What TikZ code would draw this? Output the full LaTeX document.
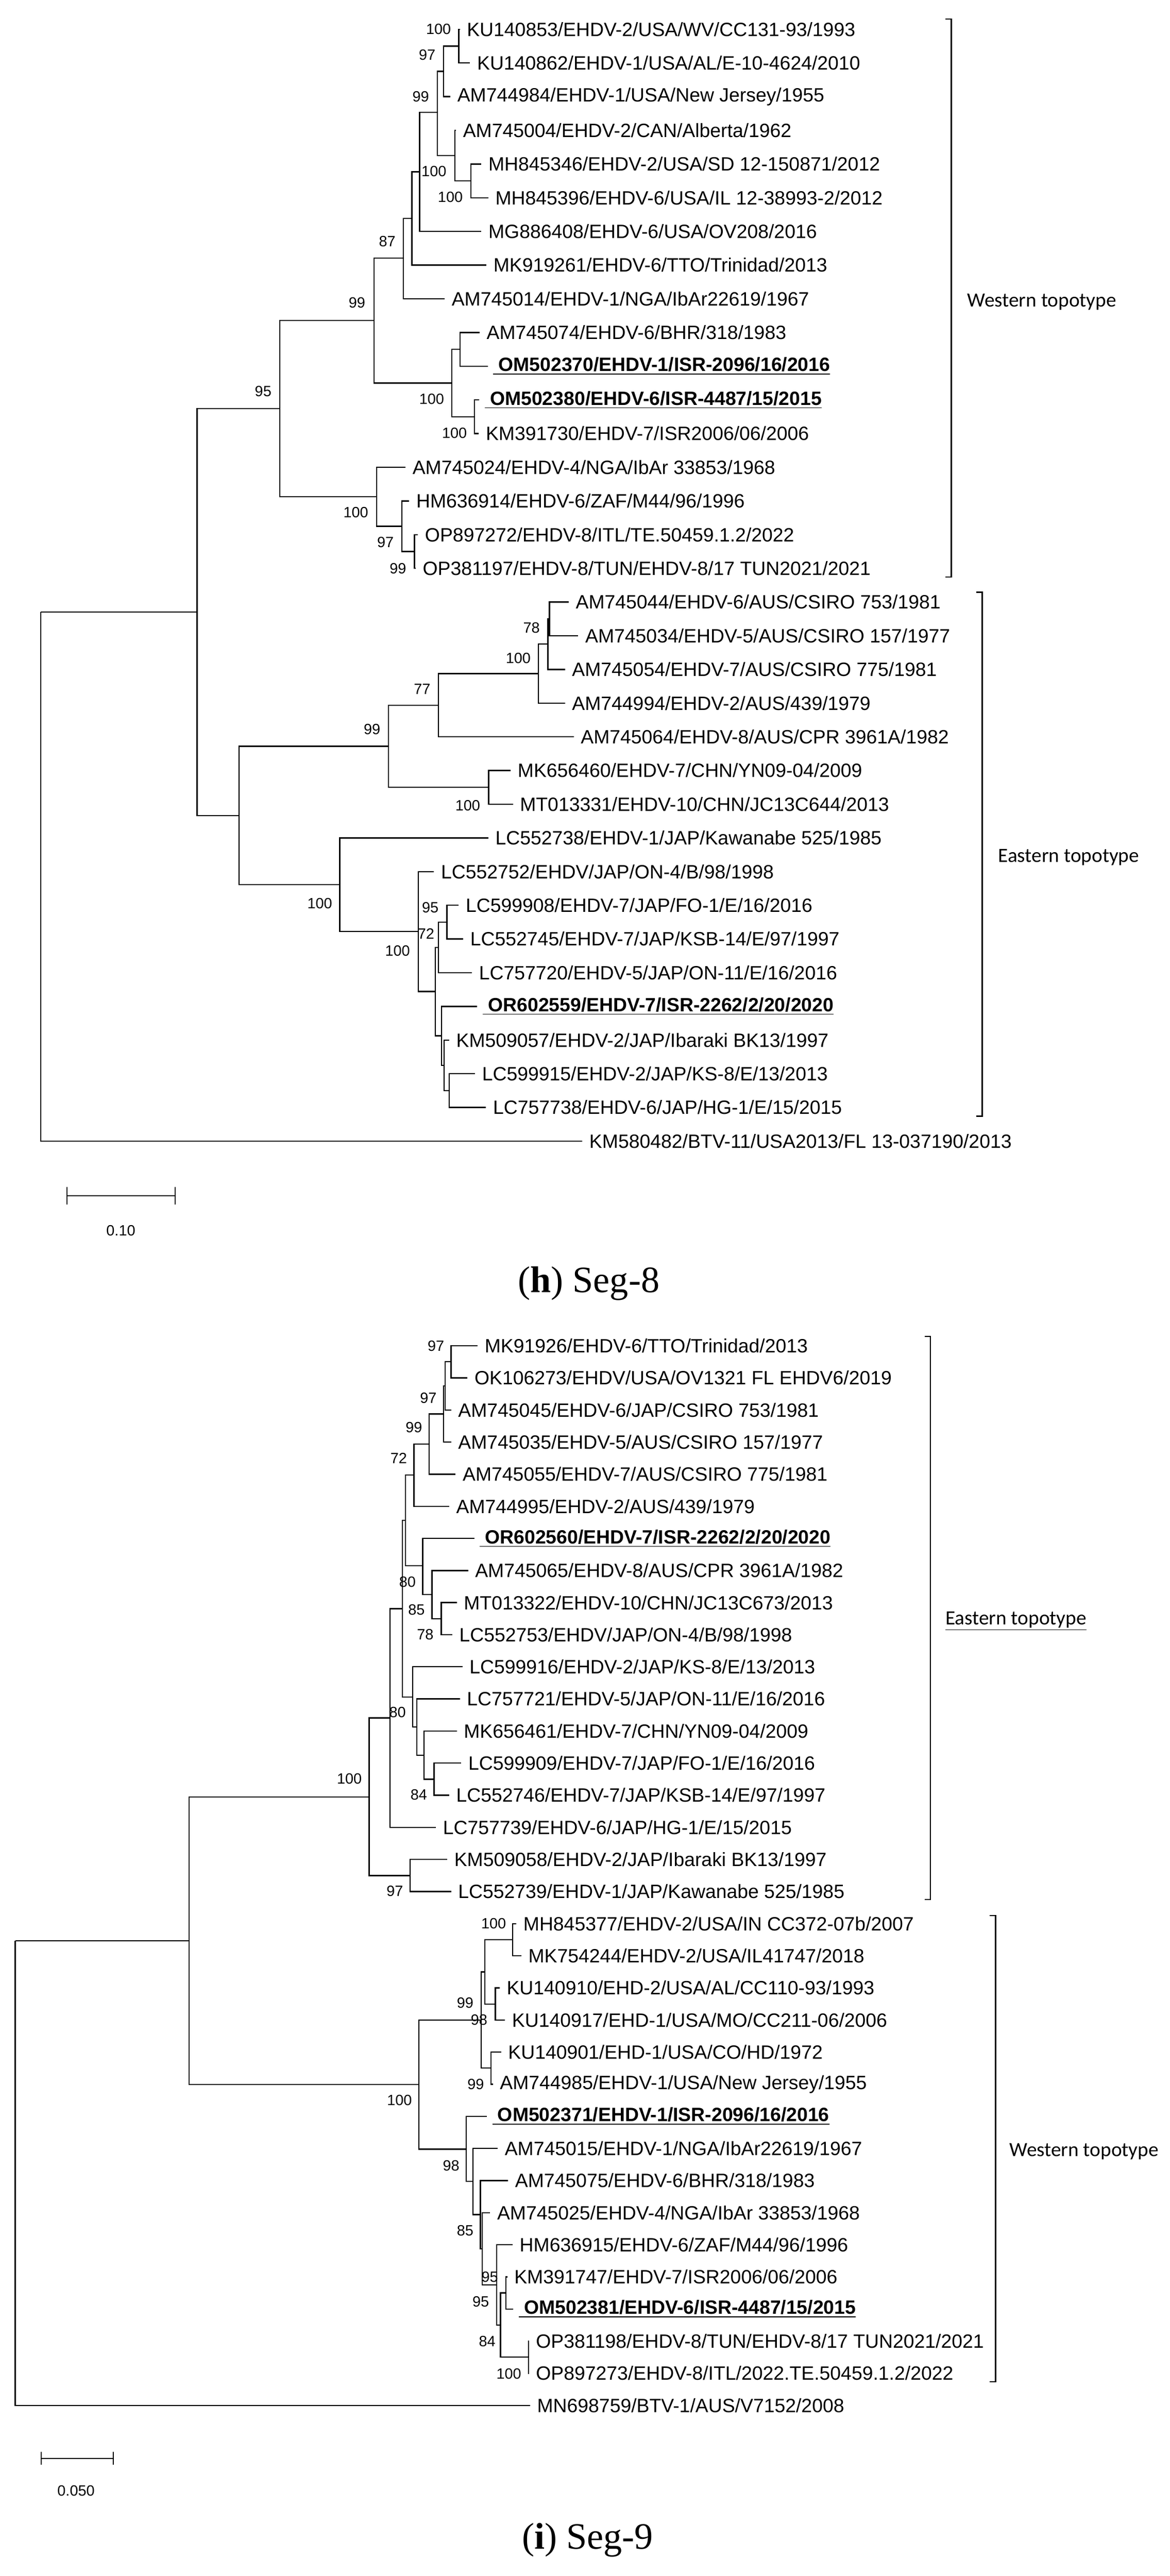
\documentclass[tikz,border=0pt]{standalone}
\usepackage{fontspec}
\setmainfont{Liberation Sans}
\newfontfamily\topo{Carlito}
\newfontfamily\capf{Liberation Serif}
\begin{document}
\begin{tikzpicture}[x=1pt,y=1pt,line width=0.75pt,
  leaf/.style={anchor=west,inner sep=0pt,font=\fontsize{11.9}{12}\selectfont},
  bs/.style={inner sep=0pt,font=\fontsize{9.2}{10}\selectfont},
  topolab/.style={anchor=west,inner sep=0pt,font=\topo\fontsize{12.5}{14}\selectfont},
  figcap/.style={inner sep=0pt,font=\capf\fontsize{23}{26}\selectfont},
  branch/.style={line width=0.75pt}]
\useasboundingbox (0,0) rectangle (723.1,-1592.6);
\newcommand\nd[3]{\coordinate (#1) at (#2,#3);}
\newcommand\lf[4]{\coordinate (#1) at (#2-4,#3); \node[leaf] (#1t) at (#2,#3) {#4};}
\newcommand\blf[4]{\coordinate (#1) at (#2-3,#3); \node[leaf] (#1t) at (#2,#3) {\underline{\textbf{\ #4}}};}
% ================= tree h =================
\begin{scope}[x=1pt,y=-20.83pt,yshift=2.73pt]
\lf{h1}{288.3}{1}{KU140853/EHDV-2/USA/WV/CC131-93/1993}
\lf{h2}{294.6}{2}{KU140862/EHDV-1/USA/AL/E-10-4624/2010}
\lf{h3}{282.4}{3}{AM744984/EHDV-1/USA/New Jersey/1955}
\lf{h4}{285.9}{4}{AM745004/EHDV-2/CAN/Alberta/1962}
\lf{h5}{301.6}{5}{MH845346/EHDV-2/USA/SD 12-150871/2012}
\lf{h6}{305.9}{6}{MH845396/EHDV-6/USA/IL 12-38993-2/2012}
\lf{h7}{301.6}{7}{MG886408/EHDV-6/USA/OV208/2016}
\lf{h8}{304.7}{8}{MK919261/EHDV-6/TTO/Trinidad/2013}
\lf{h9}{278.9}{9}{AM745014/EHDV-1/NGA/IbAr22619/1967}
\lf{h10}{300.5}{10}{AM745074/EHDV-6/BHR/318/1983}
\blf{h11}{304.5}{11}{OM502370/EHDV-1/ISR-2096/16/2016}
\blf{h12}{299.3}{12}{OM502380/EHDV-6/ISR-4487/15/2015}
\lf{h13}{300.0}{13}{KM391730/EHDV-7/ISR2006/06/2006}
\lf{h14}{254.7}{14}{AM745024/EHDV-4/NGA/IbAr 33853/1968}
\lf{h15}{257.0}{15}{HM636914/EHDV-6/ZAF/M44/96/1996}
\lf{h16}{262.4}{16}{OP897272/EHDV-8/ITL/TE.50459.1.2/2022}
\lf{h17}{261.0}{17}{OP381197/EHDV-8/TUN/EHDV-8/17 TUN2021/2021}
\lf{h18}{355.6}{18}{AM745044/EHDV-6/AUS/CSIRO 753/1981}
\lf{h19}{361.5}{19}{AM745034/EHDV-5/AUS/CSIRO 157/1977}
\lf{h20}{353.3}{20}{AM745054/EHDV-7/AUS/CSIRO 775/1981}
\lf{h21}{353.3}{21}{AM744994/EHDV-2/AUS/439/1979}
\lf{h22}{358.7}{22}{AM745064/EHDV-8/AUS/CPR 3961A/1982}
\lf{h23}{319.7}{23}{MK656460/EHDV-7/CHN/YN09-04/2009}
\lf{h24}{321.1}{24}{MT013331/EHDV-10/CHN/JC13C644/2013}
\lf{h25}{305.9}{25}{LC552738/EHDV-1/JAP/Kawanabe 525/1985}
\lf{h26}{272.3}{26}{LC552752/EHDV/JAP/ON-4/B/98/1998}
\lf{h27}{287.6}{27}{LC599908/EHDV-7/JAP/FO-1/E/16/2016}
\lf{h28}{290.4}{28}{LC552745/EHDV-7/JAP/KSB-14/E/97/1997}
\lf{h29}{295.8}{29}{LC757720/EHDV-5/JAP/ON-11/E/16/2016}
\blf{h30}{298.1}{30}{OR602559/EHDV-7/ISR-2262/2/20/2020}
\lf{h31}{281.7}{31}{KM509057/EHDV-2/JAP/Ibaraki BK13/1997}
\lf{h32}{297.7}{32}{LC599915/EHDV-2/JAP/KS-8/E/13/2013}
\lf{h33}{304.5}{33}{LC757738/EHDV-6/JAP/HG-1/E/15/2015}
\lf{h34}{364.0}{34}{KM580482/BTV-11/USA2013/FL 13-037190/2013}
\nd{hR}{25.1}{18.30}\nd{hA}{121.8}{18.30}\nd{hW}{173.0}{12.26}\nd{hE}{147.7}{24.34}
\nd{hW1}{231.2}{9.64}\nd{hW2}{232.9}{14.875}\nd{hW1a}{249.3}{7.79}\nd{hW1b}{279.3}{11.5}
\nd{hW1a1}{254.7}{6.61}\nd{hW1a1a}{259.4}{5.23}\nd{hn1}{270.4}{3.46}\nd{hn2}{274.2}{2.25}
\nd{hn3}{283.6}{1.5}\nd{hn4}{281.2}{4.75}\nd{hn5}{291.1}{5.5}\nd{hn6}{284.5}{10.5}
\nd{hn7}{293.4}{12.5}\nd{hn8}{248.4}{15.75}\nd{hn9}{256.3}{16.5}
\nd{hE1}{240.1}{22.28}\nd{he3}{271.1}{21.06}\nd{he2}{332.9}{20.125}\nd{he1}{338.7}{19.25}
\nd{hm78}{339.7}{18.5}\nd{he4}{302.1}{23.5}\nd{hE2}{210.1}{26.39}\nd{hE2a}{258.7}{27.78}
\nd{hx}{269.2}{29.56}\nd{hf1}{271.1}{28.25}\nd{hf2}{276.3}{27.5}\nd{hg1}{273.0}{30.875}
\nd{hg2}{274.6}{31.75}\nd{hg3}{277.7}{32.5}
\foreach \p/\c in {hR/hA,hR/h34,hA/hW,hA/hE,hW/hW1,hW/hW2,hW1/hW1a,hW1/hW1b,hW1a/hW1a1,hW1a/h9,
 hW1a1/hW1a1a,hW1a1/h8,hW1a1a/hn1,hW1a1a/h7,hn1/hn2,hn1/hn4,hn2/hn3,hn2/h3,hn3/h1,hn3/h2,
 hn4/h4,hn4/hn5,hn5/h5,hn5/h6,hW1b/hn6,hW1b/hn7,hn6/h10,hn6/h11,hn7/h12,hn7/h13,
 hW2/h14,hW2/hn8,hn8/h15,hn8/hn9,hn9/h16,hn9/h17,
 hE/hE1,hE/hE2,hE1/he3,hE1/he4,he3/he2,he3/h22,he2/he1,he2/h21,he1/hm78,he1/h20,hm78/h18,hm78/h19,
 he4/h23,he4/h24,hE2/h25,hE2/hE2a,hE2a/h26,hE2a/hx,hx/hf1,hx/hg1,hf1/hf2,hf1/h29,hf2/h27,hf2/h28,
 hg1/h30,hg1/hg2,hg2/h31,hg2/hg3,hg3/h32,hg3/h33}
 \draw[branch] (\p) |- (\c);
\foreach \t/\x/\y in {100/271.1/1.0,97/264.1/1.76,99/260.1/3.0,100/268.3/5.22,100/278.4/5.98,
 87/239.4/7.30,99/220.7/9.12,95/162.7/11.75,100/266.9/11.98,100/281.0/12.98,100/220.0/15.34,
 97/238.3/16.23,99/246.0/17.0,78/328.6/18.76,100/320.4/19.67,77/261.0/20.58,99/230.0/21.77,
 100/289.2/24.04,100/197.7/26.95,95/266.0/27.07,72/263.4/27.84,100/245.8/28.35}
 \node[bs] at (\x,\y) {\t};
\end{scope}
% brackets h
\draw (584.6,-11.7) -- (588.1,-11.7) -- (588.1,-356.8) -- (584.6,-356.8);
\node[topolab] (westh) at (597.7,-186.7) {Western topotype};
\draw (603.7,-366.1) -- (607.2,-366.1) -- (607.2,-690.1) -- (603.7,-690.1);
\node[topolab] (easth) at (616.8,-530) {Eastern topotype};
% scale h
\coordinate (sh1) at (41.5,-739.3); \coordinate (sh2) at (108.3,-739.3);
\draw (sh1) -- (sh2);
\draw ([yshift=5.5pt]sh1) -- ([yshift=-5.5pt]sh1);
\draw ([yshift=5.5pt]sh2) -- ([yshift=-5.5pt]sh2);
\node[bs] (shl) at (74.7,-760.8) {0.10};
\node[figcap] (caph) at (364,-793.6) {(\textbf{h}) Seg-8};
% ================= tree i =================
\begin{scope}[x=1pt,y=-19.85pt,yshift=-812.15pt]
\lf{i1}{299.3}{1}{MK91926/EHDV-6/TTO/Trinidad/2013}
\lf{i2}{293.0}{2}{OK106273/EHDV/USA/OV1321 FL EHDV6/2019}
\lf{i3}{282.9}{3}{AM745045/EHDV-6/JAP/CSIRO 753/1981}
\lf{i4}{282.9}{4}{AM745035/EHDV-5/AUS/CSIRO 157/1977}
\lf{i5}{285.7}{5}{AM745055/EHDV-7/AUS/CSIRO 775/1981}
\lf{i6}{281.7}{6}{AM744995/EHDV-2/AUS/439/1979}
\blf{i7}{296.2}{7}{OR602560/EHDV-7/ISR-2262/2/20/2020}
\lf{i8}{293.4}{8}{AM745065/EHDV-8/AUS/CPR 3961A/1982}
\lf{i9}{286.4}{9}{MT013322/EHDV-10/CHN/JC13C673/2013}
\lf{i10}{283.6}{10}{LC552753/EHDV/JAP/ON-4/B/98/1998}
\lf{i11}{289.9}{11}{LC599916/EHDV-2/JAP/KS-8/E/13/2013}
\lf{i12}{288.3}{12}{LC757721/EHDV-5/JAP/ON-11/E/16/2016}
\lf{i13}{286.4}{13}{MK656461/EHDV-7/CHN/YN09-04/2009}
\lf{i14}{289.2}{14}{LC599909/EHDV-7/JAP/FO-1/E/16/2016}
\lf{i15}{281.7}{15}{LC552746/EHDV-7/JAP/KSB-14/E/97/1997}
\lf{i16}{273.5}{16}{LC757739/EHDV-6/JAP/HG-1/E/15/2015}
\lf{i17}{280.5}{17}{KM509058/EHDV-2/JAP/Ibaraki BK13/1997}
\lf{i18}{282.9}{18}{LC552739/EHDV-1/JAP/Kawanabe 525/1985}
\lf{i19}{323.2}{19}{MH845377/EHDV-2/USA/IN CC372-07b/2007}
\lf{i20}{326.3}{20}{MK754244/EHDV-2/USA/IL41747/2018}
\lf{i21}{312.9}{21}{KU140910/EHD-2/USA/AL/CC110-93/1993}
\lf{i22}{316.2}{22}{KU140917/EHD-1/USA/MO/CC211-06/2006}
\lf{i23}{313.8}{23}{KU140901/EHD-1/USA/CO/HD/1972}
\lf{i24}{308.7}{24}{AM744985/EHDV-1/USA/New Jersey/1955}
\blf{i25}{304.0}{25}{OM502371/EHDV-1/ISR-2096/16/2016}
\lf{i26}{311.7}{26}{AM745015/EHDV-1/NGA/IbAr22619/1967}
\lf{i27}{318.1}{27}{AM745075/EHDV-6/BHR/318/1983}
\lf{i28}{307.0}{28}{AM745025/EHDV-4/NGA/IbAr 33853/1968}
\lf{i29}{320.9}{29}{HM636915/EHDV-6/ZAF/M44/96/1996}
\lf{i30}{317.6}{30}{KM391747/EHDV-7/ISR2006/06/2006}
\blf{i31}{320.4}{31}{OM502381/EHDV-6/ISR-4487/15/2015}
\lf{i32}{331.0}{32}{OP381198/EHDV-8/TUN/EHDV-8/17 TUN2021/2021}
\lf{i33}{331.0}{33}{OP897273/EHDV-8/ITL/2022.TE.50459.1.2/2022}
\lf{i34}{331.7}{34}{MN698759/BTV-1/AUS/V7152/2008}
\nd{iR}{9.4}{19.53}\nd{iA}{116.9}{19.53}\nd{iEE}{228.2}{15.05}\nd{iE2}{253.5}{17.5}
\nd{iE1}{241.1}{12.59}\nd{iE1a}{248.8}{9.19}\nd{ib5}{250.7}{6.44}\nd{ib4}{255.9}{5.03}
\nd{ib3}{265.3}{4.06}\nd{ib2}{274.2}{3.125}\nd{ib1}{275.1}{2.25}\nd{in97}{278.9}{1.5}
\nd{ic}{261.3}{7.85}\nd{ic1}{267.1}{8.75}\nd{ic2}{272.8}{9.5}
\nd{id}{255.2}{11.94}\nd{id1}{257.7}{12.875}\nd{id2}{262.2}{13.75}\nd{id3}{268.3}{14.5}
\nd{iWW}{258.9}{24.01}\nd{iW1}{297.4}{22.0}\nd{ip3}{299.8}{20.5}\nd{ip1}{316.9}{19.5}
\nd{ip2}{306.3}{21.5}\nd{ip4}{303.5}{23.5}\nd{iW2}{288.3}{26.02}\nd{iq1}{292.3}{27.03}
\nd{iq2}{297.0}{28.06}\nd{iq7}{298.1}{29.125}\nd{iq6}{307.0}{30.25}\nd{iq5}{309.4}{31.5}
\nd{is1}{312.7}{30.5}\nd{is2}{326.8}{32.5}
\foreach \p/\c in {iR/iA,iR/i34,iA/iEE,iA/iWW,iEE/iE1,iEE/iE2,iE2/i17,iE2/i18,iE1/iE1a,iE1/i16,
 iE1a/ib5,iE1a/id,ib5/ib4,ib5/ic,ib4/ib3,ib4/i6,ib3/ib2,ib3/i5,ib2/ib1,ib2/i4,ib1/in97,ib1/i3,
 in97/i1,in97/i2,ic/i7,ic/ic1,ic1/i8,ic1/ic2,ic2/i9,ic2/i10,id/i11,id/id1,id1/i12,id1/id2,
 id2/i13,id2/id3,id3/i14,id3/i15,
 iWW/iW1,iWW/iW2,iW1/ip3,iW1/ip4,ip3/ip1,ip3/ip2,ip1/i19,ip1/i20,ip2/i21,ip2/i22,ip4/i23,ip4/i24,
 iW2/i25,iW2/iq1,iq1/i26,iq1/iq2,iq2/i27,iq2/iq7,iq7/i28,iq7/iq6,iq6/i29,iq6/iq5,iq5/is1,iq5/is2,
 is1/i30,is1/i31,is2/i32,is2/i33}
 \draw[branch] (\p) |- (\c);
\foreach \t/\x/\y in {97/269.5/1.0,97/264.8/2.63,99/255.9/3.55,72/246.5/4.51,80/251.9/8.35,
 85/257.5/9.23,78/262.9/10.0,80/245.8/12.42,100/216.0/14.48,84/258.9/14.99,97/244.1/17.99,
 100/305.2/18.99,99/287.6/21.46,98/296.2/22.0,99/294.1/24.0,100/247.0/24.5,98/278.9/26.54,
 85/287.6/28.56,95/302.8/30.0,95/297.2/30.78,84/301.2/32.01,100/314.6/33.02}
 \node[bs] at (\x,\y) {\t};
\end{scope}
% brackets i
\draw (571.7,-826.3) -- (575.2,-826.3) -- (575.2,-1174.4) -- (571.7,-1174.4);
\node[topolab] (easti) at (584.2,-1002.3) {\underline{Eastern topotype}};
\draw (612.0,-1184.3) -- (615.5,-1184.3) -- (615.5,-1472.5) -- (612.0,-1472.5);
\node[topolab] (westi) at (623.8,-1330.3) {Western topotype};
% scale i
\coordinate (si1) at (25.4,-1519.9); \coordinate (si2) at (70.1,-1519.9);
\draw (si1) -- (si2);
\draw ([yshift=4pt]si1) -- ([yshift=-4pt]si1);
\draw ([yshift=4pt]si2) -- ([yshift=-4pt]si2);
\node[bs] (sil) at (47.0,-1539.8) {0.050};
\node[figcap] (capi) at (363.3,-1570.5) {(\textbf{i}) Seg-9};
\end{tikzpicture}
\end{document}
